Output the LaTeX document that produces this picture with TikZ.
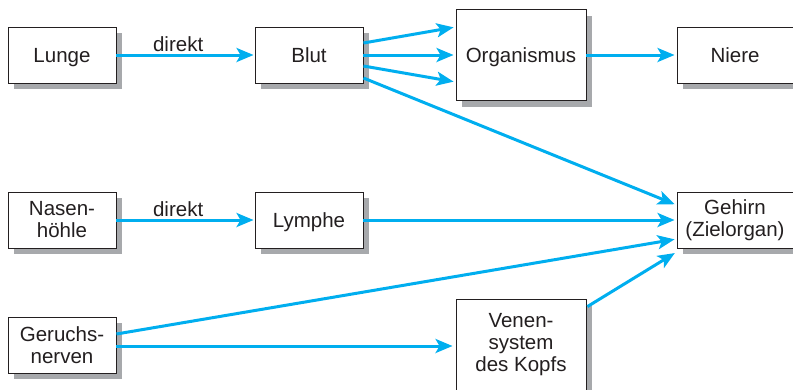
\documentclass[tikz,border=0pt]{standalone}
\usepackage{fontspec}
\setmainfont{Liberation Sans}
\usetikzlibrary{arrows.meta,shadows}
\definecolor{arrowblue}{HTML}{00AEEF}
\definecolor{shadowgray}{HTML}{A7A9AC}
\definecolor{ink}{HTML}{231F20}
\tikzset{
  box/.style={draw=ink, line width=0.9pt, fill=white, text=ink, align=center,
    inner sep=0pt, minimum height=56pt, minimum width=108pt,
    font=\fontsize{20.5pt}{22pt}\selectfont,
    drop shadow={shadow xshift=6pt, shadow yshift=-6pt, fill=shadowgray, opacity=1}},
  oneline/.style={text height=15pt, text depth=0pt},
  conn/.style={draw=arrowblue, line width=3pt, -{Stealth[length=17pt,width=14pt,inset=4pt]}},
  lbl/.style={text=ink, font=\fontsize{20.5pt}{22pt}\selectfont, inner sep=2pt}
}
\begin{document}
\begin{tikzpicture}[x=1pt,y=-1pt]
\useasboundingbox (0,0) rectangle (793,389);
\node[box, oneline] (lunge) at (62,55) {Lunge};
\node[box, oneline] (blut) at (309,55) {Blut};
\node[box, oneline, minimum width=130pt, minimum height=91pt] (org) at (521,55) {Organismus};
\node[box, oneline, minimum width=116pt] (niere) at (735,55) {Niere};
\node[box] (nase) at (62,220) {Nasen-\\höhle};
\node[box, oneline] (lymphe) at (309,220) {Lymphe};
\node[box, minimum width=116pt] (gehirn) at (735,220) {Gehirn\\(Zielorgan)};
\node[box] (geruch) at (62,345) {Geruchs-\\nerven};
\node[box, minimum width=130pt, minimum height=92pt] (venen) at (521,345) {Venen-\\system\\des Kopfs};

\draw[conn] (lunge.east) -- node[lbl, above, pos=0.45] {direkt} ([xshift=-1pt]blut.west);
\draw[conn, shorten >=2pt] ([yshift=12pt]blut.east) -- ([yshift=28pt]org.west);
\draw[conn, shorten >=2pt] (blut.east) -- (org.west);
\draw[conn, shorten >=2pt] ([yshift=-11pt]blut.east) -- ([yshift=-27pt]org.west);
\draw[conn, shorten >=2pt] ([yshift=-23pt]blut.east) -- ([yshift=15pt]gehirn.west);
\draw[conn, shorten >=2pt] (org.east) -- (niere.west);
\draw[conn] (nase.east) -- node[lbl, above, pos=0.45] {direkt} ([xshift=-1pt]lymphe.west);
\draw[conn, shorten >=2pt] (lymphe.east) -- (gehirn.west);
\draw[conn, shorten >=2pt] ([yshift=11pt]geruch.east) -- ([yshift=-19pt]gehirn.west);
\draw[conn, shorten >=3pt] ([yshift=-1pt]geruch.east) -- ([yshift=-1pt]venen.west);
\draw[conn, shorten >=2pt] ([xshift=1pt,yshift=-8pt]venen.north east) -- ([yshift=-32pt]gehirn.west);
\end{tikzpicture}
\end{document}
